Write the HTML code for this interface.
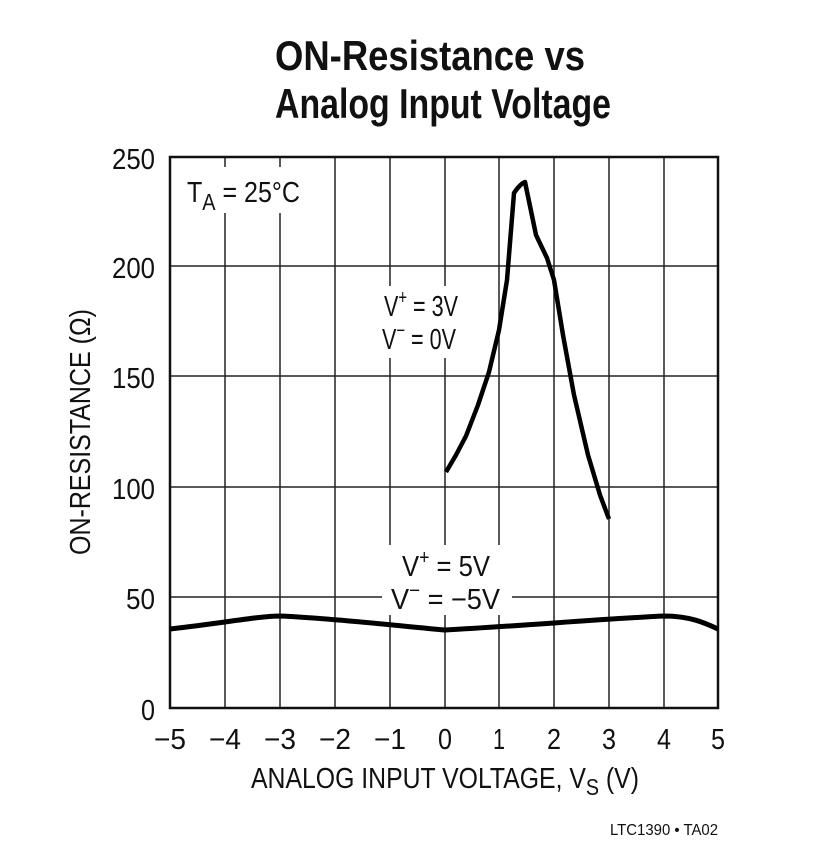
<!DOCTYPE html>
<html><head><meta charset="utf-8"><style>
html,body{margin:0;padding:0;background:#fff;}
svg{display:block}
text{font-family:"Liberation Sans",sans-serif;fill:#111}
</style></head><body>
<svg width="815" height="867" viewBox="0 0 815 867" xmlns="http://www.w3.org/2000/svg">
<text x="430" y="70" font-size="42" font-weight="bold" text-anchor="middle" textLength="310" lengthAdjust="spacingAndGlyphs">ON-Resistance vs</text>
<text x="443" y="118" font-size="42" font-weight="bold" text-anchor="middle" textLength="336" lengthAdjust="spacingAndGlyphs">Analog Input Voltage</text>
<g stroke="#222" stroke-width="1.5">
<line x1="225" y1="157" x2="225" y2="708"/><line x1="280" y1="157" x2="280" y2="708"/>
<line x1="335" y1="157" x2="335" y2="708"/><line x1="390" y1="157" x2="390" y2="708"/>
<line x1="445" y1="157" x2="445" y2="708"/><line x1="499" y1="157" x2="499" y2="708"/>
<line x1="554" y1="157" x2="554" y2="708"/><line x1="609" y1="157" x2="609" y2="708"/>
<line x1="664" y1="157" x2="664" y2="708"/>
<line x1="170" y1="266" x2="718" y2="266"/><line x1="170" y1="376" x2="718" y2="376"/>
<line x1="170" y1="487" x2="718" y2="487"/><line x1="170" y1="597" x2="718" y2="597"/>
</g>
<rect x="182" y="167" width="120" height="46" fill="#fff"/>
<rect x="372" y="286" width="100" height="72" fill="#fff"/>
<rect x="382" y="545" width="130" height="70" fill="#fff"/>
<rect x="170" y="157" width="548" height="551" fill="none" stroke="#111" stroke-width="2.5"/>
<path d="M170,629 C230,622 260,616 280,616 C330,618 400,626 445,630 C520,626 600,619 664,616 C690,616 705,623 718,629" fill="none" stroke="#000" stroke-width="5"/>
<path d="M446,472 L456,455 L466,436 L478,405 L489,372 L499,330 L507,280 L514,193 Q520,184 525,182 L536,235 L547,258 L554,280 L563,335 L574,395 L588,455 L600,495 L609,519" fill="none" stroke="#000" stroke-width="4.5" stroke-linejoin="round"/>
<text x="187" y="202" font-size="29" textLength="113" lengthAdjust="spacingAndGlyphs">T<tspan font-size="23" dy="8">A</tspan><tspan dy="-8"> = 25°C</tspan></text>
<text x="384" y="316" font-size="29" textLength="74" lengthAdjust="spacingAndGlyphs">V<tspan font-size="20" dy="-12">+</tspan><tspan dy="12"> = 3V</tspan></text>
<text x="382" y="349" font-size="29" textLength="74" lengthAdjust="spacingAndGlyphs">V<tspan font-size="20" dy="-12">−</tspan><tspan dy="12"> = 0V</tspan></text>
<text x="402" y="576" font-size="29" textLength="88" lengthAdjust="spacingAndGlyphs">V<tspan font-size="20" dy="-12">+</tspan><tspan dy="12"> = 5V</tspan></text>
<text x="391" y="609" font-size="29" textLength="109" lengthAdjust="spacingAndGlyphs">V<tspan font-size="20" dy="-12">−</tspan><tspan dy="12"> = −5V</tspan></text>
<g font-size="29" text-anchor="end">
<text x="155" y="169" textLength="43" lengthAdjust="spacingAndGlyphs">250</text>
<text x="155" y="278" textLength="43" lengthAdjust="spacingAndGlyphs">200</text>
<text x="155" y="388" textLength="43" lengthAdjust="spacingAndGlyphs">150</text>
<text x="155" y="499" textLength="43" lengthAdjust="spacingAndGlyphs">100</text>
<text x="155" y="609" textLength="29" lengthAdjust="spacingAndGlyphs">50</text>
<text x="155" y="720" textLength="14" lengthAdjust="spacingAndGlyphs">0</text>
</g>
<g font-size="29" text-anchor="middle">
<text x="170" y="749" textLength="32" lengthAdjust="spacingAndGlyphs">−5</text>
<text x="225" y="749" textLength="32" lengthAdjust="spacingAndGlyphs">−4</text>
<text x="280" y="749" textLength="32" lengthAdjust="spacingAndGlyphs">−3</text>
<text x="335" y="749" textLength="32" lengthAdjust="spacingAndGlyphs">−2</text>
<text x="390" y="749" textLength="32" lengthAdjust="spacingAndGlyphs">−1</text>
<text x="445" y="749" textLength="14" lengthAdjust="spacingAndGlyphs">0</text>
<text x="499" y="749" textLength="12" lengthAdjust="spacingAndGlyphs">1</text>
<text x="554" y="749" textLength="14" lengthAdjust="spacingAndGlyphs">2</text>
<text x="609" y="749" textLength="14" lengthAdjust="spacingAndGlyphs">3</text>
<text x="664" y="749" textLength="14" lengthAdjust="spacingAndGlyphs">4</text>
<text x="718" y="749" textLength="14" lengthAdjust="spacingAndGlyphs">5</text>
</g>
<text x="251" y="788" font-size="29" textLength="388" lengthAdjust="spacingAndGlyphs">ANALOG INPUT VOLTAGE, V<tspan font-size="23" dy="7">S</tspan><tspan dy="-7"> (V)</tspan></text>
<text transform="translate(90,432) rotate(-90)" font-size="29" text-anchor="middle" textLength="246" lengthAdjust="spacingAndGlyphs">ON-RESISTANCE (Ω)</text>
<text x="718" y="835" font-size="16" text-anchor="end" textLength="108" lengthAdjust="spacingAndGlyphs">LTC1390 • TA02</text>
</svg>
</body></html>
